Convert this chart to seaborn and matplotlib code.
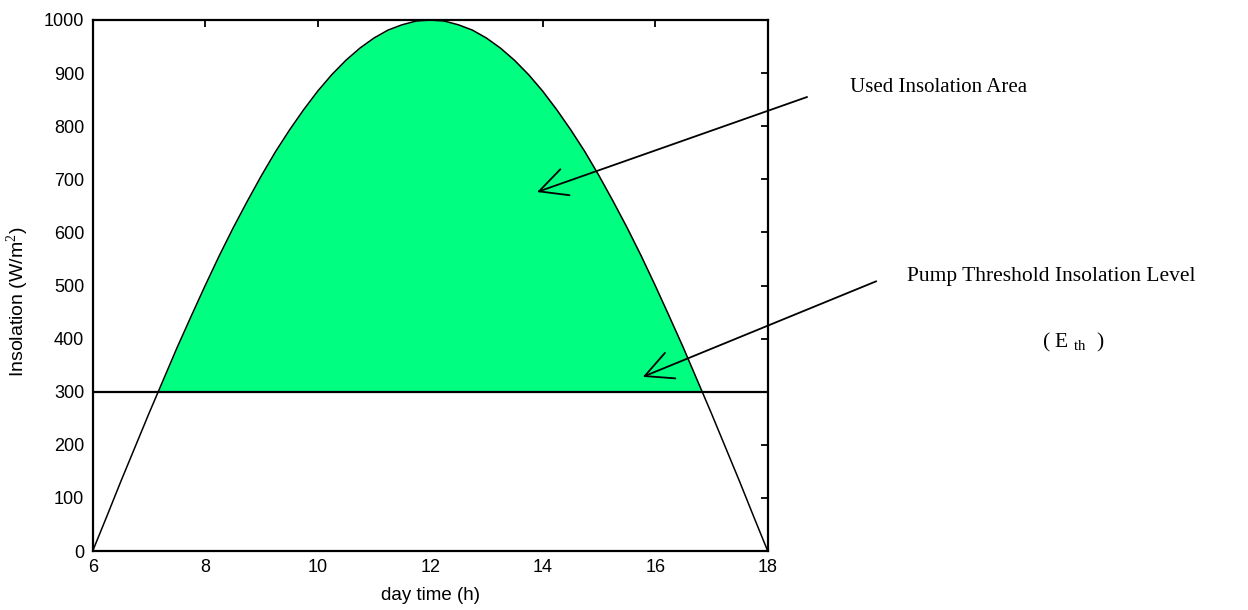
import numpy as np
import pandas as pd
import matplotlib
matplotlib.use("Agg")
import matplotlib.pyplot as plt
import seaborn as sns

# Hourly insolation profile over the day, sampled every quarter hour
hours = [6.0, 6.25, 6.5, 6.75, 7.0, 7.25, 7.5, 7.75, 8.0, 8.25, 8.5, 8.75,
         9.0, 9.25, 9.5, 9.75, 10.0, 10.25, 10.5, 10.75, 11.0, 11.25, 11.5, 11.75,
         12.0, 12.25, 12.5, 12.75, 13.0, 13.25, 13.5, 13.75, 14.0, 14.25, 14.5, 14.75,
         15.0, 15.25, 15.5, 15.75, 16.0, 16.25, 16.5, 16.75, 17.0, 17.25, 17.5, 17.75,
         18.0]
insolation = [0, 65, 131, 195, 259, 321, 383, 442, 500, 556, 609, 659,
              707, 752, 793, 831, 866, 897, 924, 947, 966, 981, 991, 998,
              1000, 998, 991, 981, 966, 947, 924, 897, 866, 831, 793, 752,
              707, 659, 609, 556, 500, 442, 383, 321, 259, 195, 131, 65,
              0]
threshold = 300

x_ticks = [6, 8, 10, 12, 14, 16, 18]
y_ticks = [0, 100, 200, 300, 400, 500, 600, 700, 800, 900, 1000]

df = pd.DataFrame({"hour": hours, "insolation": insolation})

sns.set_style("white")
plt.rcParams["font.family"] = ["Liberation Sans", "DejaVu Sans"]
plt.rcParams["mathtext.fontset"] = "custom"
plt.rcParams["mathtext.rm"] = "Liberation Serif"
for key in ("text.color", "axes.labelcolor", "xtick.color", "ytick.color"):
    plt.rcParams[key] = "black"

fig = plt.figure(figsize=(12.48, 6.10), dpi=100)
ax = fig.add_axes([92.7 / 1248, 1 - 551 / 610, (767.7 - 92.7) / 1248, (551 - 20) / 610])

h = np.asarray(df["hour"], dtype=float)
v = np.asarray(df["insolation"], dtype=float)
ax.fill_between(h, threshold, v, where=v >= threshold, interpolate=True,
                color="#00FF80", linewidth=0, zorder=1)
sns.lineplot(data=df, x="hour", y="insolation", color="black", linewidth=1.1,
             ax=ax, zorder=3)
ax.axhline(threshold, color="black", linewidth=1.6, zorder=4)

ax.set_xlim(6, 18)
ax.set_ylim(0, 1000)
ax.set_xticks(x_ticks)
ax.set_yticks(y_ticks)
ax.tick_params(direction="in", length=5.2, width=1.3, top=True, right=True,
               labelsize=13, pad=6)
for s in ax.spines.values():
    s.set_visible(True)
    s.set_linewidth(1.6)
    s.set_color("black")
ax.set_xlabel("day time (h)", fontsize=13.5, labelpad=8)
ax.set_ylabel("Insolation (W/m$^2$)", fontsize=14)
ax.yaxis.set_label_coords(-0.092, 0.47)

serif = ["Liberation Serif", "DejaVu Serif"]
fig.text(850 / 1248, 1 - 88 / 610, "Used Insolation Area", family=serif,
         fontsize=15, ha="left", va="center")
fig.text(907 / 1248, 1 - 277 / 610, "Pump Threshold Insolation Level", family=serif,
         fontsize=15.5, ha="left", va="center")
fig.text(1073 / 1248, 1 - 342 / 610, r"( E $_{\mathrm{th}}$  )", family=serif,
         fontsize=15.5, ha="center", va="center")

arrow = dict(arrowstyle="->,head_length=0.9,head_width=0.45", color="black",
             lw=1.3, shrinkA=0, shrinkB=0, mutation_scale=22)
ax.annotate("", xy=(13.9, 676), xytext=(18.7, 855), arrowprops=arrow,
            annotation_clip=False)
ax.annotate("", xy=(15.78, 328), xytext=(19.93, 508), arrowprops=arrow,
            annotation_clip=False)

fig.savefig("out.png", dpi=100, facecolor="white")
